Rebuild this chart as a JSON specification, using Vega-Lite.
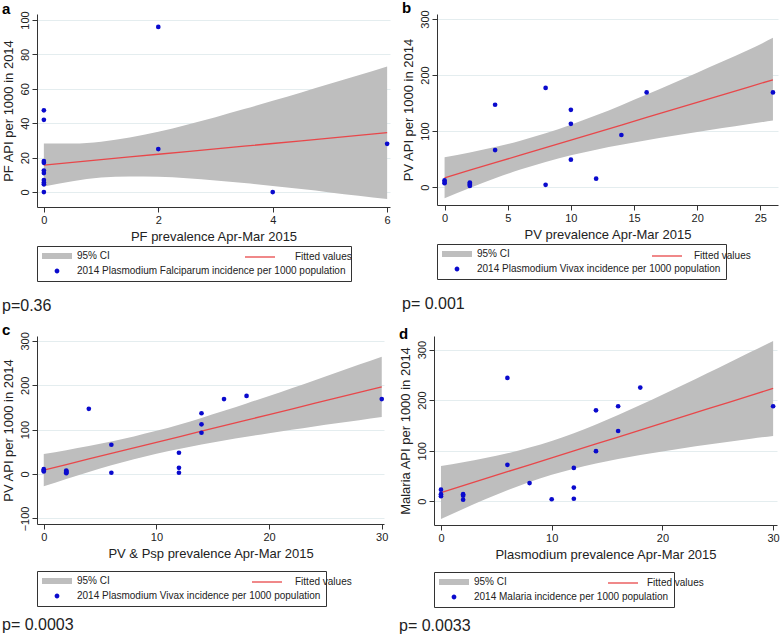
{
"$schema":"https://vega.github.io/schema/vega-lite/v6.json",
"padding":{"left":2,"top":0,"right":2,"bottom":0},
"background":"white",
"datasets":{
"ciA":[{"x":0,"lo":3.2,"hi":28.2,"fit":15.7},{"x":0.5,"lo":6.3,"hi":28.2,"fit":17.27},{"x":1,"lo":8.4,"hi":29.3,"fit":18.83},{"x":1.5,"lo":9.1,"hi":31.7,"fit":20.4},{"x":2,"lo":8.9,"hi":35.0,"fit":21.96},{"x":2.5,"lo":8.0,"hi":39.1,"fit":23.53},{"x":3,"lo":6.7,"hi":43.5,"fit":25.09},{"x":3.5,"lo":5.2,"hi":48.2,"fit":26.66},{"x":4,"lo":3.5,"hi":53.0,"fit":28.22},{"x":4.5,"lo":1.7,"hi":57.9,"fit":29.79},{"x":5,"lo":-0.2,"hi":62.9,"fit":31.35},{"x":5.5,"lo":-2.1,"hi":67.9,"fit":32.92},{"x":6,"lo":-4.0,"hi":73.0,"fit":34.48}],
"ptA":[{"x":0,"y":47.5},{"x":0,"y":42},{"x":0,"y":18},{"x":0,"y":17},{"x":0,"y":12.5},{"x":0,"y":11},{"x":0,"y":7},{"x":0,"y":5.5},{"x":0,"y":4.5},{"x":0,"y":0},{"x":2,"y":96},{"x":2,"y":25},{"x":4,"y":0},{"x":6,"y":28}],
"ciB":[{"x":0,"lo":-19.9,"hi":53.1,"fit":16.6},{"x":2,"lo":-1.6,"hi":61.8,"fit":30.1},{"x":4,"lo":15.6,"hi":71.4,"fit":43.5},{"x":6,"lo":31.2,"hi":82.8,"fit":57.0},{"x":8,"lo":44.9,"hi":95.9,"fit":70.4},{"x":10,"lo":56.6,"hi":111.2,"fit":83.9},{"x":12,"lo":66.7,"hi":128.1,"fit":97.4},{"x":14,"lo":75.4,"hi":146.2,"fit":110.8},{"x":16,"lo":83.5,"hi":165.1,"fit":124.3},{"x":18,"lo":91.0,"hi":184.4,"fit":137.7},{"x":20,"lo":98.3,"hi":204.1,"fit":151.2},{"x":22,"lo":105.3,"hi":224.1,"fit":164.7},{"x":24,"lo":112.1,"hi":244.1,"fit":178.1},{"x":26,"lo":118.8,"hi":266.4,"fit":191.6}],
"ptB":[{"x":0,"y":12},{"x":0,"y":9},{"x":0,"y":7},{"x":2,"y":8},{"x":2,"y":6},{"x":2,"y":4},{"x":2,"y":2},{"x":4,"y":147},{"x":4,"y":66},{"x":8,"y":177},{"x":8,"y":4},{"x":10,"y":138},{"x":10,"y":113},{"x":10,"y":49},{"x":12,"y":15},{"x":14,"y":93},{"x":16,"y":169},{"x":26,"y":169}],
"ciC":[{"x":0,"lo":-27.4,"hi":45.4,"fit":9},{"x":2,"lo":-10.9,"hi":53.9,"fit":21.5},{"x":4,"lo":4.8,"hi":63.2,"fit":34},{"x":6,"lo":19.7,"hi":73.3,"fit":46.5},{"x":8,"lo":33.3,"hi":84.7,"fit":59},{"x":10,"lo":45.7,"hi":97.3,"fit":71.5},{"x":12,"lo":56.7,"hi":111.3,"fit":84},{"x":14,"lo":66.6,"hi":126.4,"fit":96.5},{"x":16,"lo":75.6,"hi":142.4,"fit":109},{"x":18,"lo":84.0,"hi":159.0,"fit":121.5},{"x":20,"lo":92.0,"hi":176.0,"fit":134},{"x":22,"lo":99.6,"hi":193.4,"fit":146.5},{"x":24,"lo":107.0,"hi":211.0,"fit":159},{"x":26,"lo":114.3,"hi":228.7,"fit":171.5},{"x":28,"lo":121.4,"hi":246.6,"fit":184},{"x":30,"lo":128.5,"hi":264.5,"fit":196.5}],
"ptC":[{"x":0,"y":11},{"x":0,"y":8},{"x":0,"y":6},{"x":2,"y":8},{"x":2,"y":6},{"x":2,"y":4},{"x":2,"y":2},{"x":4,"y":147},{"x":6,"y":66},{"x":6,"y":3},{"x":12,"y":48},{"x":12,"y":14},{"x":12,"y":3},{"x":14,"y":137},{"x":14,"y":112},{"x":14,"y":93},{"x":16,"y":169},{"x":18,"y":176},{"x":30,"y":169}],
"ciD":[{"x":0,"lo":-35.3,"hi":69.7,"fit":17.2},{"x":2,"lo":-15.3,"hi":77.1,"fit":30.9},{"x":4,"lo":3.9,"hi":85.5,"fit":44.7},{"x":6,"lo":21.9,"hi":94.9,"fit":58.4},{"x":8,"lo":38.2,"hi":106.2,"fit":72.2},{"x":10,"lo":52.4,"hi":119.4,"fit":85.9},{"x":12,"lo":64.5,"hi":134.7,"fit":99.6},{"x":14,"lo":74.8,"hi":152.0,"fit":113.4},{"x":16,"lo":83.6,"hi":170.6,"fit":127.1},{"x":18,"lo":91.4,"hi":190.4,"fit":140.9},{"x":20,"lo":98.5,"hi":210.7,"fit":154.6},{"x":22,"lo":105.2,"hi":231.4,"fit":168.3},{"x":24,"lo":111.6,"hi":252.6,"fit":182.1},{"x":26,"lo":117.6,"hi":274.0,"fit":195.8},{"x":28,"lo":123.6,"hi":295.6,"fit":209.6},{"x":30,"lo":129.3,"hi":317.3,"fit":223.3}],
"ptD":[{"x":0,"y":23},{"x":0,"y":14},{"x":0,"y":10},{"x":2,"y":14},{"x":2,"y":11},{"x":2,"y":3},{"x":6,"y":244},{"x":6,"y":72},{"x":8,"y":36},{"x":10,"y":4},{"x":12,"y":66},{"x":12,"y":27},{"x":12,"y":5},{"x":14,"y":180},{"x":14,"y":99},{"x":16,"y":188},{"x":16,"y":139},{"x":18,"y":225},{"x":30,"y":188}]
},
"config":{
"font":"Liberation Sans",
"view":{"stroke":null},
"axis":{"labelFont":"Liberation Sans","titleFont":"Liberation Sans","labelFontSize":11,"titleFontSize":13,"titleFontWeight":"normal","labelColor":"#222","titleColor":"#222","domainColor":"#333","tickColor":"#333","tickSize":5,"gridColor":"#e4edef","labelPadding":2,"labelOverlap":false,"format":"d","tickCount":12},
"axisX":{"grid":false,"titlePadding":5},
"axisY":{"grid":true,"titlePadding":4},
"legend":{"orient":"bottom","rowPadding":5,"padding":5,"labelFontSize":10,"labelFont":"Liberation Sans","labelColor":"#222","symbolStrokeWidth":0,"offset":3,"labelLimit":400},
"title":{"font":"Liberation Sans"}
},
"resolve":{"scale":{"color":"independent","fill":"independent","shape":"independent","size":"independent"},"legend":{"color":"independent","fill":"independent","shape":"independent","size":"independent"}},
"spacing":8,
"vconcat":[
{"hconcat":[
{"title":{"text":"p=0.36","orient":"bottom","anchor":"start","fontSize":16,"fontWeight":"normal","offset":16,"color":"#222"},
 "vconcat":[{"title":{"text":"a","anchor":"start","fontSize":15,"fontWeight":"bold","offset":-6,"color":"#000"},
 "width":353,"height":193,
 "layer":[
 {"data":{"name":"ciA"},"mark":{"type":"area","color":"#bebebe","interpolate":"monotone"},
  "encoding":{"x":{"field":"x","type":"quantitative","title":"PF prevalence Apr-Mar 2015","scale":{"domain":[-0.12,6.05],"nice":false,"zero":false},"axis":{"values":[0,2,4,6],"tickCount":12}},
  "y":{"field":"lo","type":"quantitative","title":"PF API per 1000 in 2014","scale":{"domain":[-8.7,103.5],"nice":false,"zero":false},"axis":{"values":[0,20,40,60,80,100],"tickCount":12,"labelAngle":270,"labelOverlap":false}},"y2":{"field":"hi"}}},
 {"data":{"name":"ciA"},"mark":{"type":"line","color":"#e8474a","strokeWidth":1.3},
  "encoding":{"x":{"field":"x","type":"quantitative","title":"PF prevalence Apr-Mar 2015"},"y":{"field":"fit","type":"quantitative","title":"PF API per 1000 in 2014"}}},
 {"data":{"name":"ptA"},"mark":{"type":"point","filled":true,"opacity":1,"color":"#0a0acd","size":22,"shape":"circle"},
  "encoding":{"x":{"field":"x","type":"quantitative","title":"PF prevalence Apr-Mar 2015"},"y":{"field":"y","type":"quantitative","title":"PF API per 1000 in 2014"}}},
 {"data":{"values":[]},"mark":{"type":"point","filled":true,"opacity":1},
  "encoding":{"x":{"field":"x","type":"quantitative","title":"PF prevalence Apr-Mar 2015"},"y":{"field":"y","type":"quantitative","title":"PF API per 1000 in 2014"},
  "color":{"field":"k","type":"nominal","scale":{"domain":["95% CI","2014 Plasmodium Falciparum incidence per 1000 population"],"range":["#bebebe","#0a0acd"]},"legend":{"title":null,"direction":"vertical","columns":1,"strokeColor":"#333","labelOffset":25}},
  "shape":{"field":"k","type":"nominal","scale":{"domain":["95% CI","2014 Plasmodium Falciparum incidence per 1000 population"],"range":["M-1,-0.6H5V0.6H-1Z","M2.48,0A0.48,0.48,0,1,1,1.52,0A0.48,0.48,0,1,1,2.48,0Z"]},"legend":{"title":null,"direction":"vertical","columns":1,"strokeColor":"#333","labelOffset":25}},
  "size":{"field":"k","type":"nominal","scale":{"type":"ordinal","domain":["95% CI","2014 Plasmodium Falciparum incidence per 1000 population"],"range":[100,100]},"legend":{"title":null,"direction":"vertical","columns":1,"strokeColor":"#333","labelOffset":25}}}},
 {"data":{"values":[]},"mark":{"type":"point","filled":true,"opacity":1},
  "encoding":{"x":{"field":"x","type":"quantitative","title":"PF prevalence Apr-Mar 2015"},"y":{"field":"y","type":"quantitative","title":"PF API per 1000 in 2014"},
  "fill":{"field":"f","type":"nominal","scale":{"domain":["Fitted values"],"range":["#e8474a"]},"legend":{"title":null,"orient":"none","legendX":203,"legendY":233,"symbolType":"M-1,-0.13H5V0.13H-1Z","symbolSize":100,"labelOffset":40}}}}
 ]}]},
{"title":{"text":"p= 0.001","orient":"bottom","anchor":"start","fontSize":16,"fontWeight":"normal","offset":16,"color":"#222"},
 "vconcat":[{"title":{"text":"b","anchor":"start","fontSize":15,"fontWeight":"bold","offset":-6,"color":"#000"},
 "width":341,"height":191,
 "layer":[
 {"data":{"name":"ciB"},"mark":{"type":"area","color":"#bebebe","interpolate":"monotone"},
  "encoding":{"x":{"field":"x","type":"quantitative","title":"PV prevalence Apr-Mar 2015","scale":{"domain":[-0.6,26.4],"nice":false,"zero":false},"axis":{"values":[0,5,10,15,20,25],"tickCount":12}},
  "y":{"field":"lo","type":"quantitative","title":"PV API per 1000 in 2014","scale":{"domain":[-32,309],"nice":false,"zero":false},"axis":{"values":[0,100,200,300],"tickCount":12,"labelAngle":270,"labelOverlap":false}},"y2":{"field":"hi"}}},
 {"data":{"name":"ciB"},"mark":{"type":"line","color":"#e8474a","strokeWidth":1.3},
  "encoding":{"x":{"field":"x","type":"quantitative","title":"PV prevalence Apr-Mar 2015"},"y":{"field":"fit","type":"quantitative","title":"PV API per 1000 in 2014"}}},
 {"data":{"name":"ptB"},"mark":{"type":"point","filled":true,"opacity":1,"color":"#0a0acd","size":22,"shape":"circle"},
  "encoding":{"x":{"field":"x","type":"quantitative","title":"PV prevalence Apr-Mar 2015"},"y":{"field":"y","type":"quantitative","title":"PV API per 1000 in 2014"}}},
 {"data":{"values":[]},"mark":{"type":"point","filled":true,"opacity":1},
  "encoding":{"x":{"field":"x","type":"quantitative","title":"PV prevalence Apr-Mar 2015"},"y":{"field":"y","type":"quantitative","title":"PV API per 1000 in 2014"},
  "color":{"field":"k","type":"nominal","scale":{"domain":["95% CI","2014 Plasmodium Vivax incidence per 1000 population"],"range":["#bebebe","#0a0acd"]},"legend":{"title":null,"direction":"vertical","columns":1,"strokeColor":"#333","labelOffset":25}},
  "shape":{"field":"k","type":"nominal","scale":{"domain":["95% CI","2014 Plasmodium Vivax incidence per 1000 population"],"range":["M-1,-0.6H5V0.6H-1Z","M2.48,0A0.48,0.48,0,1,1,1.52,0A0.48,0.48,0,1,1,2.48,0Z"]},"legend":{"title":null,"direction":"vertical","columns":1,"strokeColor":"#333","labelOffset":25}},
  "size":{"field":"k","type":"nominal","scale":{"type":"ordinal","domain":["95% CI","2014 Plasmodium Vivax incidence per 1000 population"],"range":[100,100]},"legend":{"title":null,"direction":"vertical","columns":1,"strokeColor":"#333","labelOffset":25}}}},
 {"data":{"values":[]},"mark":{"type":"point","filled":true,"opacity":1},
  "encoding":{"x":{"field":"x","type":"quantitative","title":"PV prevalence Apr-Mar 2015"},"y":{"field":"y","type":"quantitative","title":"PV API per 1000 in 2014"},
  "fill":{"field":"f","type":"nominal","scale":{"domain":["Fitted values"],"range":["#e8474a"]},"legend":{"title":null,"orient":"none","legendX":210,"legendY":232,"symbolType":"M-1,-0.13H5V0.13H-1Z","symbolSize":100,"labelOffset":32}}}}
 ]}]}
],"spacing":11,"resolve":{"scale":{"color":"independent","fill":"independent","shape":"independent","size":"independent"},"legend":{"color":"independent","fill":"independent","shape":"independent","size":"independent"}}},
{"hconcat":[
{"title":{"text":"p= 0.0003","orient":"bottom","anchor":"start","fontSize":16,"fontWeight":"normal","offset":10,"color":"#222"},
 "vconcat":[{"title":{"text":"c","anchor":"start","fontSize":15,"fontWeight":"bold","offset":-6,"color":"#000"},
 "width":347,"height":188,
 "layer":[
 {"data":{"name":"ciC"},"mark":{"type":"area","color":"#bebebe","interpolate":"monotone"},
  "encoding":{"x":{"field":"x","type":"quantitative","title":"PV & Psp prevalence Apr-Mar 2015","scale":{"domain":[-0.6,30.2],"nice":false,"zero":false},"axis":{"values":[0,10,20,30],"tickCount":12}},
  "y":{"field":"lo","type":"quantitative","title":"PV API per 1000 in 2014","scale":{"domain":[-112.5,311],"nice":false,"zero":false},"axis":{"values":[-100,0,100,200,300],"tickCount":12,"labelAngle":270,"labelOverlap":false}},"y2":{"field":"hi"}}},
 {"data":{"name":"ciC"},"mark":{"type":"line","color":"#e8474a","strokeWidth":1.3},
  "encoding":{"x":{"field":"x","type":"quantitative","title":"PV & Psp prevalence Apr-Mar 2015"},"y":{"field":"fit","type":"quantitative","title":"PV API per 1000 in 2014"}}},
 {"data":{"name":"ptC"},"mark":{"type":"point","filled":true,"opacity":1,"color":"#0a0acd","size":22,"shape":"circle"},
  "encoding":{"x":{"field":"x","type":"quantitative","title":"PV & Psp prevalence Apr-Mar 2015"},"y":{"field":"y","type":"quantitative","title":"PV API per 1000 in 2014"}}},
 {"data":{"values":[]},"mark":{"type":"point","filled":true,"opacity":1},
  "encoding":{"x":{"field":"x","type":"quantitative","title":"PV & Psp prevalence Apr-Mar 2015"},"y":{"field":"y","type":"quantitative","title":"PV API per 1000 in 2014"},
  "color":{"field":"k","type":"nominal","scale":{"domain":["95% CI","2014 Plasmodium Vivax incidence per 1000 population"],"range":["#bebebe","#0a0acd"]},"legend":{"title":null,"direction":"vertical","columns":1,"strokeColor":"#333","labelOffset":25,"offset":11}},
  "shape":{"field":"k","type":"nominal","scale":{"domain":["95% CI","2014 Plasmodium Vivax incidence per 1000 population"],"range":["M-1,-0.6H5V0.6H-1Z","M2.48,0A0.48,0.48,0,1,1,1.52,0A0.48,0.48,0,1,1,2.48,0Z"]},"legend":{"title":null,"direction":"vertical","columns":1,"strokeColor":"#333","labelOffset":25,"offset":11}},
  "size":{"field":"k","type":"nominal","scale":{"type":"ordinal","domain":["95% CI","2014 Plasmodium Vivax incidence per 1000 population"],"range":[100,100]},"legend":{"title":null,"direction":"vertical","columns":1,"strokeColor":"#333","labelOffset":25,"offset":11}}}},
 {"data":{"values":[]},"mark":{"type":"point","filled":true,"opacity":1},
  "encoding":{"x":{"field":"x","type":"quantitative","title":"PV & Psp prevalence Apr-Mar 2015"},"y":{"field":"y","type":"quantitative","title":"PV API per 1000 in 2014"},
  "fill":{"field":"f","type":"nominal","scale":{"domain":["Fitted values"],"range":["#e8474a"]},"legend":{"title":null,"orient":"none","legendX":210,"legendY":236,"symbolType":"M-1,-0.13H5V0.13H-1Z","symbolSize":100,"labelOffset":33}}}}
 ]}]},
{"title":{"text":"p= 0.0033","orient":"bottom","anchor":"start","fontSize":16,"fontWeight":"normal","offset":10,"color":"#222"},
 "vconcat":[{"title":{"text":"d","anchor":"start","fontSize":15,"fontWeight":"bold","offset":-6,"color":"#000"},
 "width":343,"height":189,
 "layer":[
 {"data":{"name":"ciD"},"mark":{"type":"area","color":"#bebebe","interpolate":"monotone"},
  "encoding":{"x":{"field":"x","type":"quantitative","title":"Plasmodium prevalence Apr-Mar 2015","scale":{"domain":[-0.63,30.35],"nice":false,"zero":false},"axis":{"values":[0,10,20,30],"tickCount":12}},
  "y":{"field":"lo","type":"quantitative","title":"Malaria API per 1000 in 2014","scale":{"domain":[-47,327],"nice":false,"zero":false},"axis":{"values":[0,100,200,300],"tickCount":12,"labelAngle":270,"labelOverlap":false}},"y2":{"field":"hi"}}},
 {"data":{"name":"ciD"},"mark":{"type":"line","color":"#e8474a","strokeWidth":1.3},
  "encoding":{"x":{"field":"x","type":"quantitative","title":"Plasmodium prevalence Apr-Mar 2015"},"y":{"field":"fit","type":"quantitative","title":"Malaria API per 1000 in 2014"}}},
 {"data":{"name":"ptD"},"mark":{"type":"point","filled":true,"opacity":1,"color":"#0a0acd","size":22,"shape":"circle"},
  "encoding":{"x":{"field":"x","type":"quantitative","title":"Plasmodium prevalence Apr-Mar 2015"},"y":{"field":"y","type":"quantitative","title":"Malaria API per 1000 in 2014"}}},
 {"data":{"values":[]},"mark":{"type":"point","filled":true,"opacity":1},
  "encoding":{"x":{"field":"x","type":"quantitative","title":"Plasmodium prevalence Apr-Mar 2015"},"y":{"field":"y","type":"quantitative","title":"Malaria API per 1000 in 2014"},
  "color":{"field":"k","type":"nominal","scale":{"domain":["95% CI","2014 Malaria incidence per 1000 population"],"range":["#bebebe","#0a0acd"]},"legend":{"title":null,"direction":"vertical","columns":1,"strokeColor":"#333","labelOffset":25,"offset":11}},
  "shape":{"field":"k","type":"nominal","scale":{"domain":["95% CI","2014 Malaria incidence per 1000 population"],"range":["M-1,-0.6H5V0.6H-1Z","M2.48,0A0.48,0.48,0,1,1,1.52,0A0.48,0.48,0,1,1,2.48,0Z"]},"legend":{"title":null,"direction":"vertical","columns":1,"strokeColor":"#333","labelOffset":25,"offset":11}},
  "size":{"field":"k","type":"nominal","scale":{"type":"ordinal","domain":["95% CI","2014 Malaria incidence per 1000 population"],"range":[100,100]},"legend":{"title":null,"direction":"vertical","columns":1,"strokeColor":"#333","labelOffset":25,"offset":11}}}},
 {"data":{"values":[]},"mark":{"type":"point","filled":true,"opacity":1},
  "encoding":{"x":{"field":"x","type":"quantitative","title":"Plasmodium prevalence Apr-Mar 2015"},"y":{"field":"y","type":"quantitative","title":"Malaria API per 1000 in 2014"},
  "fill":{"field":"f","type":"nominal","scale":{"domain":["Fitted values"],"range":["#e8474a"]},"legend":{"title":null,"orient":"none","legendX":169,"legendY":237,"symbolType":"M-1,-0.13H5V0.13H-1Z","symbolSize":100,"labelOffset":29}}}}
 ]}]}
],"spacing":11,"resolve":{"scale":{"color":"independent","fill":"independent","shape":"independent","size":"independent"},"legend":{"color":"independent","fill":"independent","shape":"independent","size":"independent"}}}
]
}
